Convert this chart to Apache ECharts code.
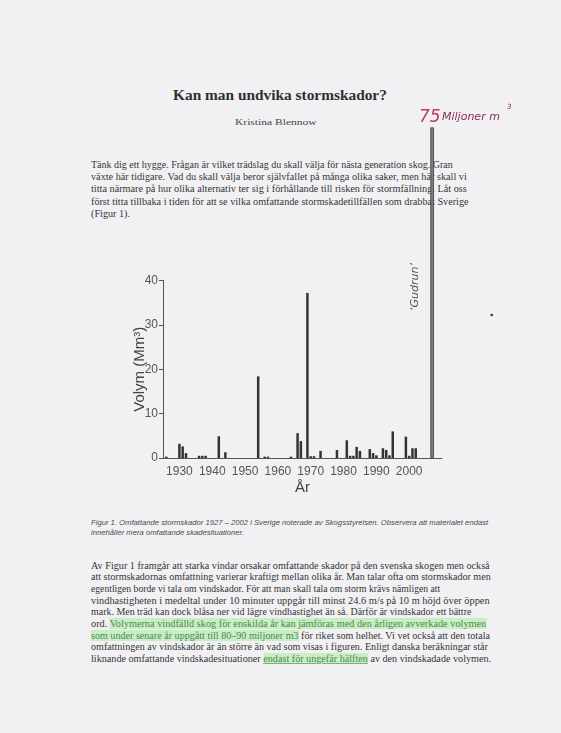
<!DOCTYPE html>
<html><head><meta charset="utf-8">
<script src="https://cdn.jsdelivr.net/npm/echarts@6/dist/echarts.min.js"></script>
<style>
html,body{margin:0;padding:0;width:561px;height:733px;overflow:hidden;background:#f1f1f4;}
#page{position:absolute;left:0;top:0;width:561px;height:733px;}
.ln{position:absolute;white-space:nowrap;transform-origin:0 50%;line-height:1.2;color:#353535;}
#chart{position:absolute;left:0;top:0;width:561px;height:733px;}
</style></head><body>
<div id="page"></div>
<div id="chart"></div>
<script>
// ---------- data ----------
const years   = [1926,1930,1931,1932,1936,1937,1938,1942,1944,1954,1956,1957,1964,1966,1967,1969,1970,1971,1973,1978,1981,1982,1983,1984,1985,1988,1989,1990,1992,1993,1994,1995,1999,2000,2001,2002];
const volumes = [0.3, 3.2, 2.6, 1.1, 0.5, 0.5, 0.5, 4.9, 1.3, 18.4,0.3, 0.3, 0.3, 5.6, 3.8, 37.2,0.4, 0.4, 1.6, 1.8, 4.0, 0.5, 0.5, 2.5, 1.6, 2.0, 1.1, 0.6, 2.2, 1.8, 0.6, 6.0, 4.8, 0.5, 2.2, 2.2];
const gudrunYears   = [2007];
const gudrunVolumes = [74.5];
const xTickLabels = [1930,1940,1950,1960,1970,1980,1990,2000];
const yTickLabels = [0,10,20,30,40];

const titleText  = 'Kan man undvika stormskador?';
const authorText = 'Kristina Blennow';
const para1Lines = [
  'Tänk dig ett hygge. Frågan är vilket trädslag du skall välja för nästa generation skog. Gran',
  'växte här tidigare. Vad du skall välja beror självfallet på många olika saker, men här skall vi',
  'titta närmare på hur olika alternativ ter sig i förhållande till risken för stormfällning. Låt oss',
  'först titta tillbaka i tiden för att se vilka omfattande stormskadetillfällen som drabbat Sverige',
  '(Figur 1).'
];
const para1Ends = [453, 466.5, 466.5, 468.3, null];
const captionLines = [
  'Figur 1. Omfattande stormskador 1927 – 2002 i Sverige noterade av Skogsstyrelsen. Observera att materialet endast',
  'innehåller mera omfattande skadesituationer.'
];
const captionEnds = [488, null];
const para2Lines = [
  [['Av Figur 1 framgår att starka vindar orsakar omfattande skador på den svenska skogen men också',0]],
  [['att stormskadornas omfattning varierar kraftigt mellan olika år. Man talar ofta om stormskador men',0]],
  [['egentligen borde vi tala om vindskador. För att man skall tala om storm krävs nämligen att',0]],
  [['vindhastigheten i medeltal under 10 minuter uppgår till minst 24.6 m/s på 10 m höjd över öppen',0]],
  [['mark. Men träd kan dock blåsa ner vid lägre vindhastighet än så. Därför är vindskador ett bättre',0]],
  [['ord. ',0],['Volymerna vindfälld skog för enskilda år kan jämföras med den årligen avverkade volymen',1]],
  [['som under senare år uppgått till 80–90 miljoner m3',1],[' för riket som helhet. Vi vet också att den totala',0]],
  [['omfattningen av vindskador är än större än vad som visas i figuren. Enligt danska beräkningar står',0]],
  [['liknande omfattande vindskadesituationer ',0],['endast för ungefär hälften',2],[' av den vindskadade volymen.',0]]
];
const para2Ends = [490, 491, 440, 490, 471.7, 486.7, 490, 488, 491];

// ---------- page text ----------
const page = document.getElementById('page');
function addLine(segs, x, yc, font, size, color){
  const d = document.createElement('div');
  d.className = 'ln';
  d.style.left = x + 'px';
  d.style.top = (yc - size*0.62) + 'px';
  d.style.font = font;
  d.style.lineHeight = '1.2';
  if (color) d.style.color = color;
  segs.forEach(([t,h]) => {
    const s = document.createElement('span');
    s.textContent = t;
    if (h) { s.style.background = 'rgba(175,235,165,0.6)'; s.style.color = '#4c8a4c'; }
    if (h === 2) { s.style.textDecoration = 'underline'; s.style.textDecorationColor = '#6dbb6d'; }
    d.appendChild(s);
  });
  page.appendChild(d);
  return d;
}
function fit(d, right, x){ const s = (right - x) / d.offsetWidth; d.style.transform = 'scaleX(' + s + ')'; return s; }
function scale(d, s){ d.style.transform = 'scaleX(' + s + ')'; }
function block(lines, ends, x, y0, dy, font, size, color){
  let last = 1;
  lines.forEach((l,i) => {
    const segs = typeof l === 'string' ? [[l,0]] : l;
    const d = addLine(segs, x, y0 + dy*i, font, size, color);
    if (ends[i] != null) last = fit(d, ends[i], x); else scale(d, last);
  });
}

const serif = '"Liberation Serif","Times New Roman",serif';
let t = addLine([[titleText,0]], 173, 97, 'bold 14px ' + serif, 14, '#2f2f2f'); fit(t, 387, 173);
t = addLine([[authorText,0]], 235, 123, '9px ' + serif, 9, '#444'); fit(t, 317, 235);

block(para1Lines, para1Ends, 91, 165.5, 12.3, '9.5px ' + serif, 9.5);
block(captionLines, captionEnds, 91, 522.7, 10, 'italic 6.5px "Liberation Sans",Arial,sans-serif', 6.5, '#4a4a4a');
block(para2Lines, para2Ends, 91, 565.7, 11.7, '10px ' + serif, 10);

// ---------- chart ----------
const chart = echarts.init(document.getElementById('chart'), null, {renderer:'canvas'});
const axisColor = '#555';
const sans = '"Liberation Sans", Arial, sans-serif';
const option = {
  animation: false,
  backgroundColor: 'transparent',
  grid: {left: 163, top: 280.5, width: 279, height: 177.5, containLabel: false},
  xAxis: [{
    type: 'value', min: 1925, max: 2010, interval: 5,
    splitLine: {show: false},
    axisTick: {show: false},
    axisLine: {lineStyle: {color: axisColor, width: 1}},
    axisLabel: {color: '#555', fontFamily: sans, fontSize: 12, margin: 8,
      formatter: v => xTickLabels.indexOf(v) >= 0 ? String(v) : ''},
    name: 'År', nameLocation: 'middle', nameGap: 22, nameMoveOverlap: false,
    nameTextStyle: {color: '#444', fontFamily: sans, fontSize: 15}
  }, {
    type: 'value', min: 1925, max: 2010, show: false
  }],
  yAxis: {
    type: 'value', min: 0, max: 40, interval: 10,
    splitLine: {show: false},
    axisLine: {show: true, lineStyle: {color: axisColor, width: 1}},
    axisTick: {show: true, length: 4, lineStyle: {color: axisColor}},
    axisLabel: {color: '#555', fontFamily: sans, fontSize: 12, margin: 5,
      formatter: v => yTickLabels.indexOf(v) >= 0 ? String(v) : ''},
    name: 'Volym (Mm³)', nameLocation: 'middle', nameGap: 16, nameRotate: 90, nameMoveOverlap: false,
    nameTextStyle: {color: '#444', fontFamily: sans, fontSize: 15}
  },
  series: [{
    type: 'bar', xAxisIndex: 0,
    data: years.map((y,i) => [y, volumes[i]]),
    barWidth: 2.5,
    itemStyle: {color: '#333'}
  }, {
    type: 'bar', xAxisIndex: 1, clip: false,
    data: gudrunYears.map((y,i) => [y, gudrunVolumes[i]]),
    barWidth: 3.6,
    itemStyle: {color: '#7e7e7e', borderColor: '#3e3e3e', borderWidth: 0.8}
  }],
  graphic: [
    {type: 'text', left: 419, top: 109, style: {text: '75', fill: '#c4365c', font: 'italic 17px "DejaVu Sans", sans-serif'}},
    {type: 'text', left: 442, top: 112, style: {text: 'Miljoner m', fill: '#8e2a52', font: 'italic 11px "DejaVu Sans", sans-serif'}},
    {type: 'text', left: 507, top: 104, style: {text: '3', fill: '#8e2a52', font: 'italic 7px "DejaVu Sans", sans-serif'}},
    {type: 'text', x: 415, y: 287, rotation: Math.PI/2,
      style: {text: '‘Gudrun’', fill: '#555', font: 'italic 11px "DejaVu Sans", sans-serif', align: 'center', verticalAlign: 'middle'}},
    {type: 'circle', shape: {cx: 491.7, cy: 315, r: 1.3}, style: {fill: '#333'}}
  ]
};
chart.setOption(option);
</script>
</body></html>
